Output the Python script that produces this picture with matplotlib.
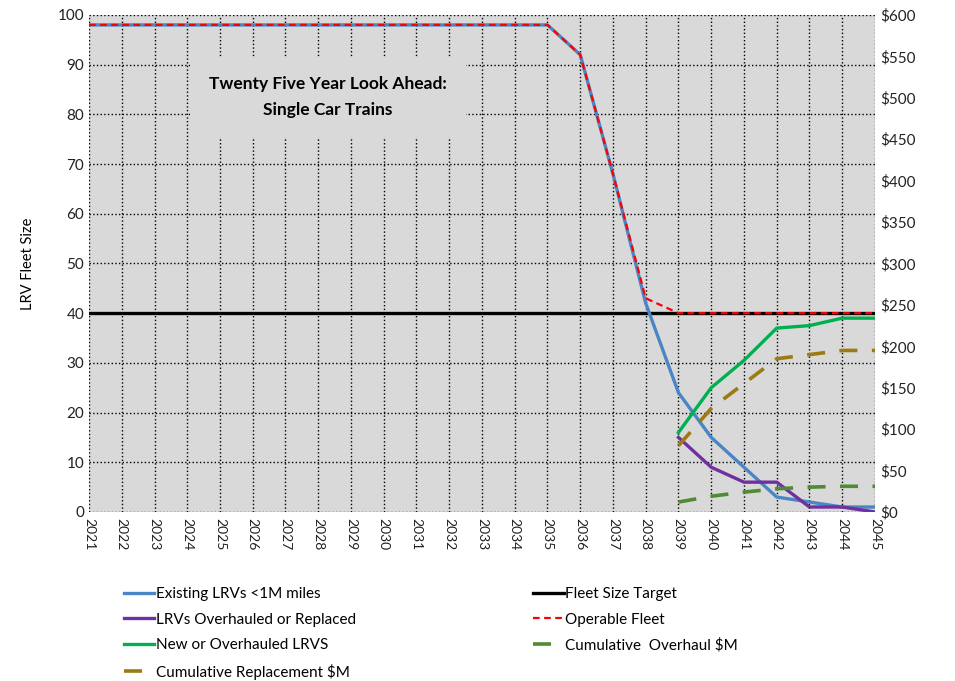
import matplotlib.pyplot as plt
from matplotlib.ticker import FuncFormatter

plt.rcParams['font.family'] = ['Lato', 'DejaVu Sans']

# data
years = list(range(2021, 2046))
existing = [98] * 15 + [92, 68, 42, 24, 15, 9, 3, 2, 1, 1]
operable = [98] * 15 + [92, 68, 43, 40, 40, 40, 40, 40, 40, 40]
target = [40] * 25
late_years = list(range(2039, 2046))
overhauled = [15, 9, 6, 6, 1, 1, 0]
new_lrvs = [16, 25, 30.5, 37, 37.5, 39, 39]
cum_replacement = [80, 125, 155, 185, 190, 195, 195]
cum_overhaul = [12, 19, 24, 28, 30, 31, 31]

fig = plt.figure(figsize=(9.55, 6.81), dpi=100)
ax = fig.add_axes([0.0932, 0.2482, 0.823, 0.7298])
ax.set_facecolor('#d9d9d9')
ax2 = ax.twinx()

l_exist, = ax.plot(years, existing, color='#4a86c5', lw=2.4, zorder=3)
l_over, = ax.plot(late_years, overhauled, color='#7030a0', lw=2.4, zorder=3)
l_new, = ax.plot(late_years, new_lrvs, color='#00b050', lw=2.4, zorder=3)
l_target, = ax.plot(years, target, color='black', lw=2.4, zorder=2)
l_oper, = ax.plot(years, operable, color='#ff0000', lw=1.6, ls=(0, (3, 2)), zorder=4)

l_repl, = ax2.plot(late_years, cum_replacement, color='#9c7a14', lw=2.6, ls=(0, (5, 4)))
l_ohaul, = ax2.plot(late_years, cum_overhaul, color='#4f8a35', lw=2.6, ls=(0, (5, 4)))

ax.set_xlim(2021, 2045)
ax.set_ylim(0, 100)
ax2.set_ylim(0, 600)
ax.set_xticks(years)
ax.set_xticklabels([str(y) for y in years], rotation=270, fontsize=10)
ax.tick_params(axis='y', labelsize=11, length=0, colors='#222222')
ax.tick_params(axis='x', length=0, pad=4, colors='#222222')
ax.set_yticks(range(0, 101, 10))
ax2.set_yticks(range(0, 601, 50))
ax2.yaxis.set_major_formatter(FuncFormatter(lambda v, p: '${:.0f}'.format(v)))
ax2.tick_params(axis='y', labelsize=11, length=0, pad=4, colors='#222222')
ax.grid(True, color='black', ls=':', lw=1.0)
ax.set_axisbelow(True)
for a in (ax, ax2):
    for s in a.spines.values():
        s.set_visible(False)
ax.set_ylabel('LRV Fleet Size', fontsize=10.5, labelpad=16)

ax.text(2028.3, 83.5, 'Twenty Five Year Look Ahead:\nSingle Car Trains', ha='center', va='center',
        fontsize=12.5, fontweight='bold', linespacing=1.75, zorder=5,
        bbox=dict(facecolor='#d9d9d9', edgecolor='none', pad=14))

handles = [l_exist, l_over, l_new, l_repl, l_target, l_oper, l_ohaul]
labels = ['Existing LRVs <1M miles', 'LRVs Overhauled or Replaced', 'New or Overhauled LRVS',
          'Cumulative Replacement $M', 'Fleet Size Target', 'Operable Fleet', 'Cumulative  Overhaul $M']
fig.legend(handles, labels, loc='upper left', bbox_to_anchor=(0.115, 0.158), ncol=2,
           frameon=False, fontsize=11, handlelength=2.0, handletextpad=0.1,
           columnspacing=11.6, labelspacing=0.75)

fig.savefig('out.png', dpi=100)
